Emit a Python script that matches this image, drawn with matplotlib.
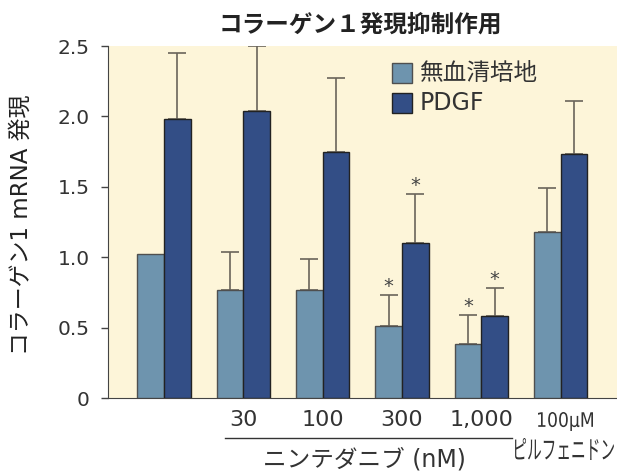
import matplotlib
matplotlib.use("Agg")
import matplotlib.pyplot as plt
import numpy as np
from matplotlib.patches import Rectangle, PathPatch
from matplotlib.textpath import TextPath
from matplotlib.font_manager import FontProperties
from matplotlib.transforms import Affine2D

plt.rcParams['font.family'] = ['DejaVu Sans', 'Noto Sans CJK JP']

groups = ["", "30", "100", "300", "1,000", "100μM\nピルフェニドン"]
serum_free = [1.02, 0.77, 0.77, 0.51, 0.38, 1.18]
serum_free_err = [0.0, 0.27, 0.22, 0.22, 0.21, 0.31]
pdgf = [1.98, 2.04, 1.75, 1.10, 0.58, 1.73]
pdgf_err = [0.47, 0.46, 0.52, 0.35, 0.20, 0.38]
star_serum = [False, False, False, True, True, False]
star_pdgf = [False, False, False, True, True, False]
yticks = [0, 0.5, 1.0, 1.5, 2.0, 2.5]
ytick_labels = ["0", "0.5", "1.0", "1.5", "2.0", "2.5"]
legend_labels = ["無血清培地", "PDGF"]

c_light = "#6e94ae"
c_dark = "#334e86"
bg = "#fdf5d9"
err_c = "#6a645a"
txt = "#333333"

W, H = 617, 472
fig = plt.figure(figsize=(W / 100, H / 100), dpi=100)
ax = fig.add_axes([108 / W, 1 - 398 / H, 1 - 108 / W, 352 / H])
ax.set_facecolor(bg)

x = np.arange(len(groups))
w = 0.337
ax.bar(x - w/2, serum_free, w, color=c_light, edgecolor="#4f4f4f", linewidth=1.0, zorder=3)
ax.bar(x + w/2, pdgf, w, color=c_dark, edgecolor="#222222", linewidth=1.0, zorder=3)

for xs, vals, errs, stars in [(x - w/2, serum_free, serum_free_err, star_serum),
                              (x + w/2, pdgf, pdgf_err, star_pdgf)]:
    for xi, v, e, s in zip(xs, vals, errs, stars):
        if e > 0:
            ax.errorbar(xi, v, yerr=[[0], [e]], fmt='none', ecolor=err_c, elinewidth=1.2,
                        capsize=6.3, capthick=1.2, zorder=2)
        if s:
            ax.text(xi, v + e + 0.062, "*", ha='center', va='center', fontsize=14,
                    color="#444444")

ax.set_xlim(-0.706, 5.71)
ax.set_ylim(0, 2.5)
ax.set_yticks(yticks)
ax.set_yticklabels(ytick_labels, fontsize=14.5, color=txt)
ax.set_xticks(x)
ax.set_xticklabels([])
ax.tick_params(axis='x', length=0)
ax.tick_params(axis='y', length=5, width=1, color="#444444", pad=8)
for s in ['top', 'right']:
    ax.spines[s].set_visible(False)
ax.spines['left'].set_color("#444444")
ax.spines['bottom'].set_color("#444444")

for xi, lab in zip(x[1:5], groups[1:5]):
    ax.text(xi, -(420 - 398) / 141, lab, ha='center', va='center', fontsize=16,
            color=txt, clip_on=False)


def fit_text(s, x0, x1, ytop, ybot, family):
    tp = TextPath((0, 0), s, size=100, prop=FontProperties(family=family))
    ext = tp.get_extents()
    sx = (x1 - x0) / ext.width
    sy = (ybot - ytop) / ext.height
    tr = (Affine2D().translate(-ext.x0, -ext.y0).scale(sx / W, sy / H)
          .translate(x0 / W, (H - ybot) / H))
    fig.add_artist(PathPatch(tp, transform=tr + fig.transFigure,
                             facecolor=txt, edgecolor='none'))


top_lab, bot_lab = groups[5].split("\n")
fit_text(top_lab, 538, 593, 412, 431, 'DejaVu Sans')
fit_text(bot_lab, 515, 614, 438, 460, 'Noto Sans CJK JP')

# bracket line under nintedanib doses
fig.add_artist(plt.Line2D([225 / W, 512 / W], [1 - 438 / H, 1 - 438 / H], color=txt, lw=1.0))
fig.text(364 / W, 1 - 460 / H, "ニンテダニブ (nM)", ha='center', va='center', fontsize=17, color=txt)

fig.text(21 / W, 1 - 225 / H, "コラーゲン1 mRNA 発現", rotation=90, ha='center', va='center',
         fontsize=16.5, color="#222222")
fig.text(360 / W, 1 - 25 / H, "コラーゲン１発現抑制作用", ha='center', va='center',
         fontsize=17, fontweight='bold', color="#222222")

# legend
for i, (lab, col, ec) in enumerate(zip(legend_labels, [c_light, c_dark], ["#4f4f4f", "#222222"])):
    yc = 73 + 30 * i
    fig.add_artist(Rectangle((392 / W, 1 - (yc + 10) / H), 20 / W, 20 / H,
                             transform=fig.transFigure, facecolor=col, edgecolor=ec, lw=1.0))
    fig.text(420 / W, 1 - yc / H, lab, ha='left', va='center', fontsize=17, color=txt)

fig.savefig("out.png", dpi=100)
